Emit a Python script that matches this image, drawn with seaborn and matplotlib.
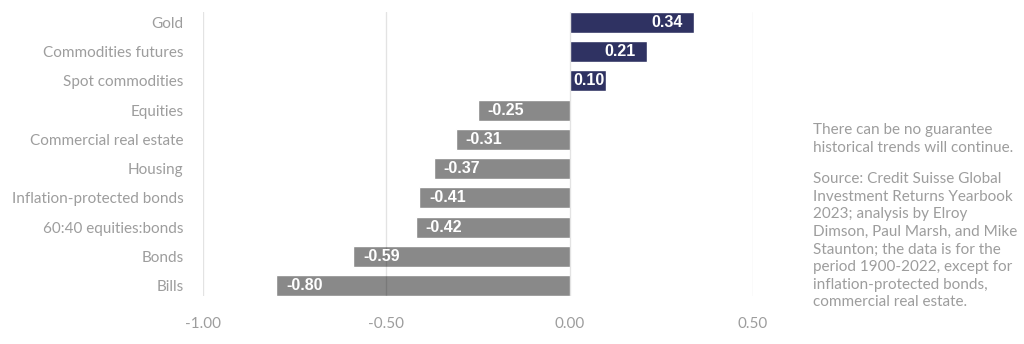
import matplotlib
matplotlib.use("Agg")
import matplotlib.pyplot as plt
import seaborn as sns
import pandas as pd

categories = ["Gold", "Commodities futures", "Spot commodities", "Equities",
              "Commercial real estate", "Housing", "Inflation-protected bonds",
              "60:40 equities:bonds", "Bonds", "Bills"]
values = [0.34, 0.21, 0.10, -0.25, -0.31, -0.37, -0.41, -0.42, -0.59, -0.80]
xticks = [-1.0, -0.5, 0.0, 0.5]
note1 = "There can be no guarantee\nhistorical trends will continue."
note2 = ("Source: Credit Suisse Global\nInvestment Returns Yearbook\n2023; analysis by Elroy\n"
         "Dimson, Paul Marsh, and Mike\nStaunton; the data is for the\nperiod 1900-2022, except for\n"
         "inflation-protected bonds,\ncommercial real estate.")

NAVY = "#262b6b"
GRAY = "#898989"
TXT = "#9d9d9d"

sns.set_theme(style="white")
plt.rcParams["font.family"] = ["Lato", "DejaVu Sans"]

df = pd.DataFrame({"cat": categories, "val": values})
df["sign"] = ["pos" if v > 0 else "neg" for v in values]

fig = plt.figure(figsize=(10.24, 3.44), dpi=100)
ax = fig.add_axes([203 / 1024, 48 / 344, 550 / 1024, 284 / 344])

sns.barplot(data=df, x="val", y="cat", hue="sign", palette={"pos": NAVY, "neg": GRAY},
            orient="h", width=0.72, dodge=False, legend=False, ax=ax, zorder=1)

ax.set_xlim(-1.0, 0.5)
ax.set_ylim(len(categories) - 1 + 0.36, -0.36)
ax.set_xticks(xticks)
ax.set_xticklabels([f"{t:.2f}" for t in xticks])
for t in xticks:
    ax.axvline(t, color=(0, 0, 0, 0.11), lw=1.0, zorder=3)
ax.grid(False)
for s in ax.spines.values():
    s.set_visible(False)
ax.set_xlabel("")
ax.set_ylabel("")
ax.tick_params(axis="y", length=0, pad=14, labelsize=11, labelcolor=TXT)
ax.tick_params(axis="x", length=0, pad=15, labelsize=11, labelcolor=TXT)

lab_kw = dict(textcoords="offset points", va="center", color="white", fontsize=11.5,
              fontweight="bold", family="Liberation Sans", zorder=4)
for i, v in enumerate(values):
    if v >= 0.15:
        ax.annotate(f"{v:.2f}", (v, i), xytext=(-8, 0), ha="right", **lab_kw)
    elif v > 0:
        ax.annotate(f"{v:.2f}", (0, i), xytext=(3, 0), ha="left", **lab_kw)
    else:
        ax.annotate(f"{v:.2f}", (v, i), xytext=(7, 0), ha="left", **lab_kw)

fig.text(813 / 1024, 1 - 123 / 344, note1, ha="left", va="top", fontsize=11,
         color=TXT, linespacing=1.33)
fig.text(813 / 1024, 1 - 172 / 344, note2, ha="left", va="top", fontsize=11,
         color=TXT, linespacing=1.33)

fig.savefig("out.png", dpi=100)
